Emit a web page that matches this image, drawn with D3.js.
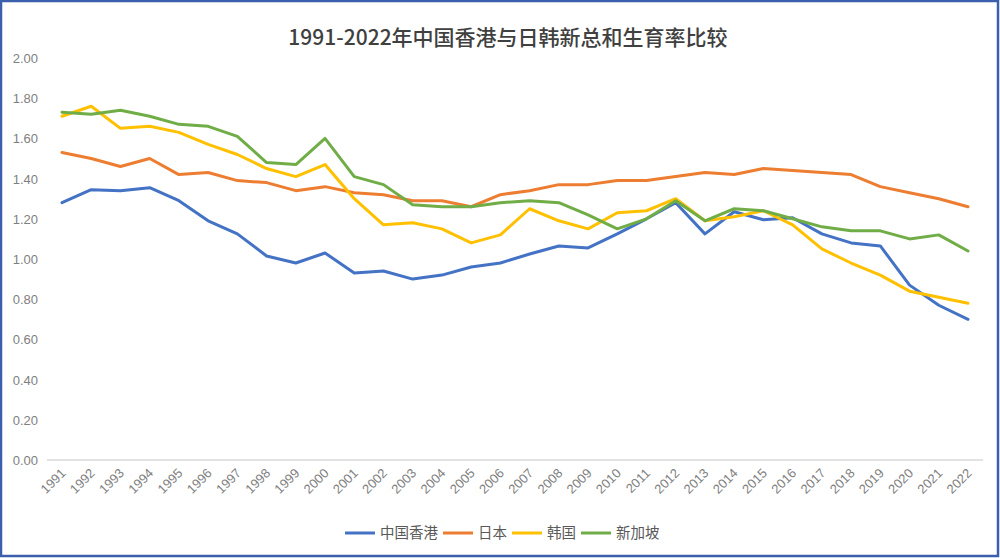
<!DOCTYPE html>
<html><head><meta charset="utf-8">
<script src="https://cdn.jsdelivr.net/npm/d3@7"></script>
<style>body{margin:0;background:#fff}svg{display:block}</style>
</head><body>
<svg id="c" width="1000" height="558"></svg>
<script>
const years = d3.range(1991, 2023).map(String);
const hongKong = [1.28,1.345,1.34,1.355,1.29,1.19,1.125,1.015,0.98,1.03,0.93,0.94,0.90,0.92,0.96,0.98,1.025,1.065,1.055,1.125,1.20,1.28,1.125,1.235,1.195,1.205,1.125,1.08,1.065,0.87,0.77,0.70];
const japan = [1.53,1.50,1.46,1.50,1.42,1.43,1.39,1.38,1.34,1.36,1.33,1.32,1.29,1.29,1.26,1.32,1.34,1.37,1.37,1.39,1.39,1.41,1.43,1.42,1.45,1.44,1.43,1.42,1.36,1.33,1.30,1.26];
const korea = [1.71,1.76,1.65,1.66,1.63,1.57,1.52,1.45,1.41,1.47,1.30,1.17,1.18,1.15,1.08,1.12,1.25,1.19,1.15,1.23,1.24,1.30,1.19,1.21,1.24,1.17,1.05,0.98,0.92,0.84,0.81,0.78];
const singapore = [1.73,1.72,1.74,1.71,1.67,1.66,1.61,1.48,1.47,1.60,1.41,1.37,1.27,1.26,1.26,1.28,1.29,1.28,1.22,1.15,1.20,1.29,1.19,1.25,1.24,1.20,1.16,1.14,1.14,1.10,1.12,1.04];
const seriesNames = ["中国香港","日本","韩国","新加坡"];
const yTicks = [0,0.2,0.4,0.6,0.8,1.0,1.2,1.4,1.6,1.8,2.0];
const title = "1991-2022年中国香港与日韩新总和生育率比较";

const series = [hongKong, japan, korea, singapore];
const colors = ["#4472C4","#ED7D31","#FFC000","#70AD47"];
const svg = d3.select("#c");
const font = "'Liberation Sans', Arial, 'Noto Sans CJK SC', sans-serif";

svg.append("rect").attr("x",1).attr("y",1).attr("width",997).attr("height",555)
  .attr("fill","#fff").attr("stroke","#3B5FAD").attr("stroke-width",2.5);

const x = d3.scalePoint().domain(years).range([62, 968]);
const y = d3.scaleLinear().domain([0, 2]).range([460, 58]);

svg.append("text").attr("x",508).attr("y",45).attr("text-anchor","middle")
  .attr("font-family","'Noto Sans CJK SC', 'Liberation Sans', sans-serif")
  .attr("font-size",21).attr("font-weight","500").attr("fill","#404040").text(title);

// y axis labels
const ya = svg.append("g").attr("transform","translate(38,0)")
  .call(d3.axisLeft(y).tickValues(yTicks).tickFormat(d3.format(".2f")).tickSize(0).tickPadding(0));
ya.select(".domain").remove();
ya.selectAll("text").attr("font-family",font).attr("font-size",13).attr("fill","#7F7F7F").attr("dy","0.35em");

// baseline
svg.append("line").attr("x1",47).attr("x2",983).attr("y1",y(0)).attr("y2",y(0))
  .attr("stroke","#D9D9D9").attr("stroke-width",1.3);

// x axis labels
const xa = svg.append("g").attr("transform",`translate(0,${y(0)})`)
  .call(d3.axisBottom(x).tickSize(0).tickPadding(0));
xa.select(".domain").remove();
xa.selectAll("text").attr("font-family",font).attr("font-size",13).attr("fill","#7F7F7F")
  .attr("text-anchor","end").attr("dy",0)
  .attr("transform","translate(4,14) rotate(-45)");

const line = d3.line().x((d,i)=>x(years[i])).y(d=>y(d));
series.forEach((s,k)=>{
  svg.append("path").datum(s).attr("d",line).attr("fill","none")
    .attr("stroke",colors[k]).attr("stroke-width",3).attr("stroke-linejoin","round").attr("stroke-linecap","round");
});

// legend
const lg = svg.append("g").attr("transform","translate(0,533)");
let lx = 345;
seriesNames.forEach((n,k)=>{
  lg.append("line").attr("x1",lx).attr("x2",lx+30).attr("y1",0).attr("y2",0)
    .attr("stroke",colors[k]).attr("stroke-width",3);
  const t = lg.append("text").attr("x",lx+35).attr("y",0).attr("dy","0.35em")
    .attr("font-family","'Noto Sans CJK SC', sans-serif").attr("font-size",14.5).attr("fill","#595959").text(n);
  lx += 35 + t.node().getComputedTextLength() + 5;
});
</script>
</body></html>
